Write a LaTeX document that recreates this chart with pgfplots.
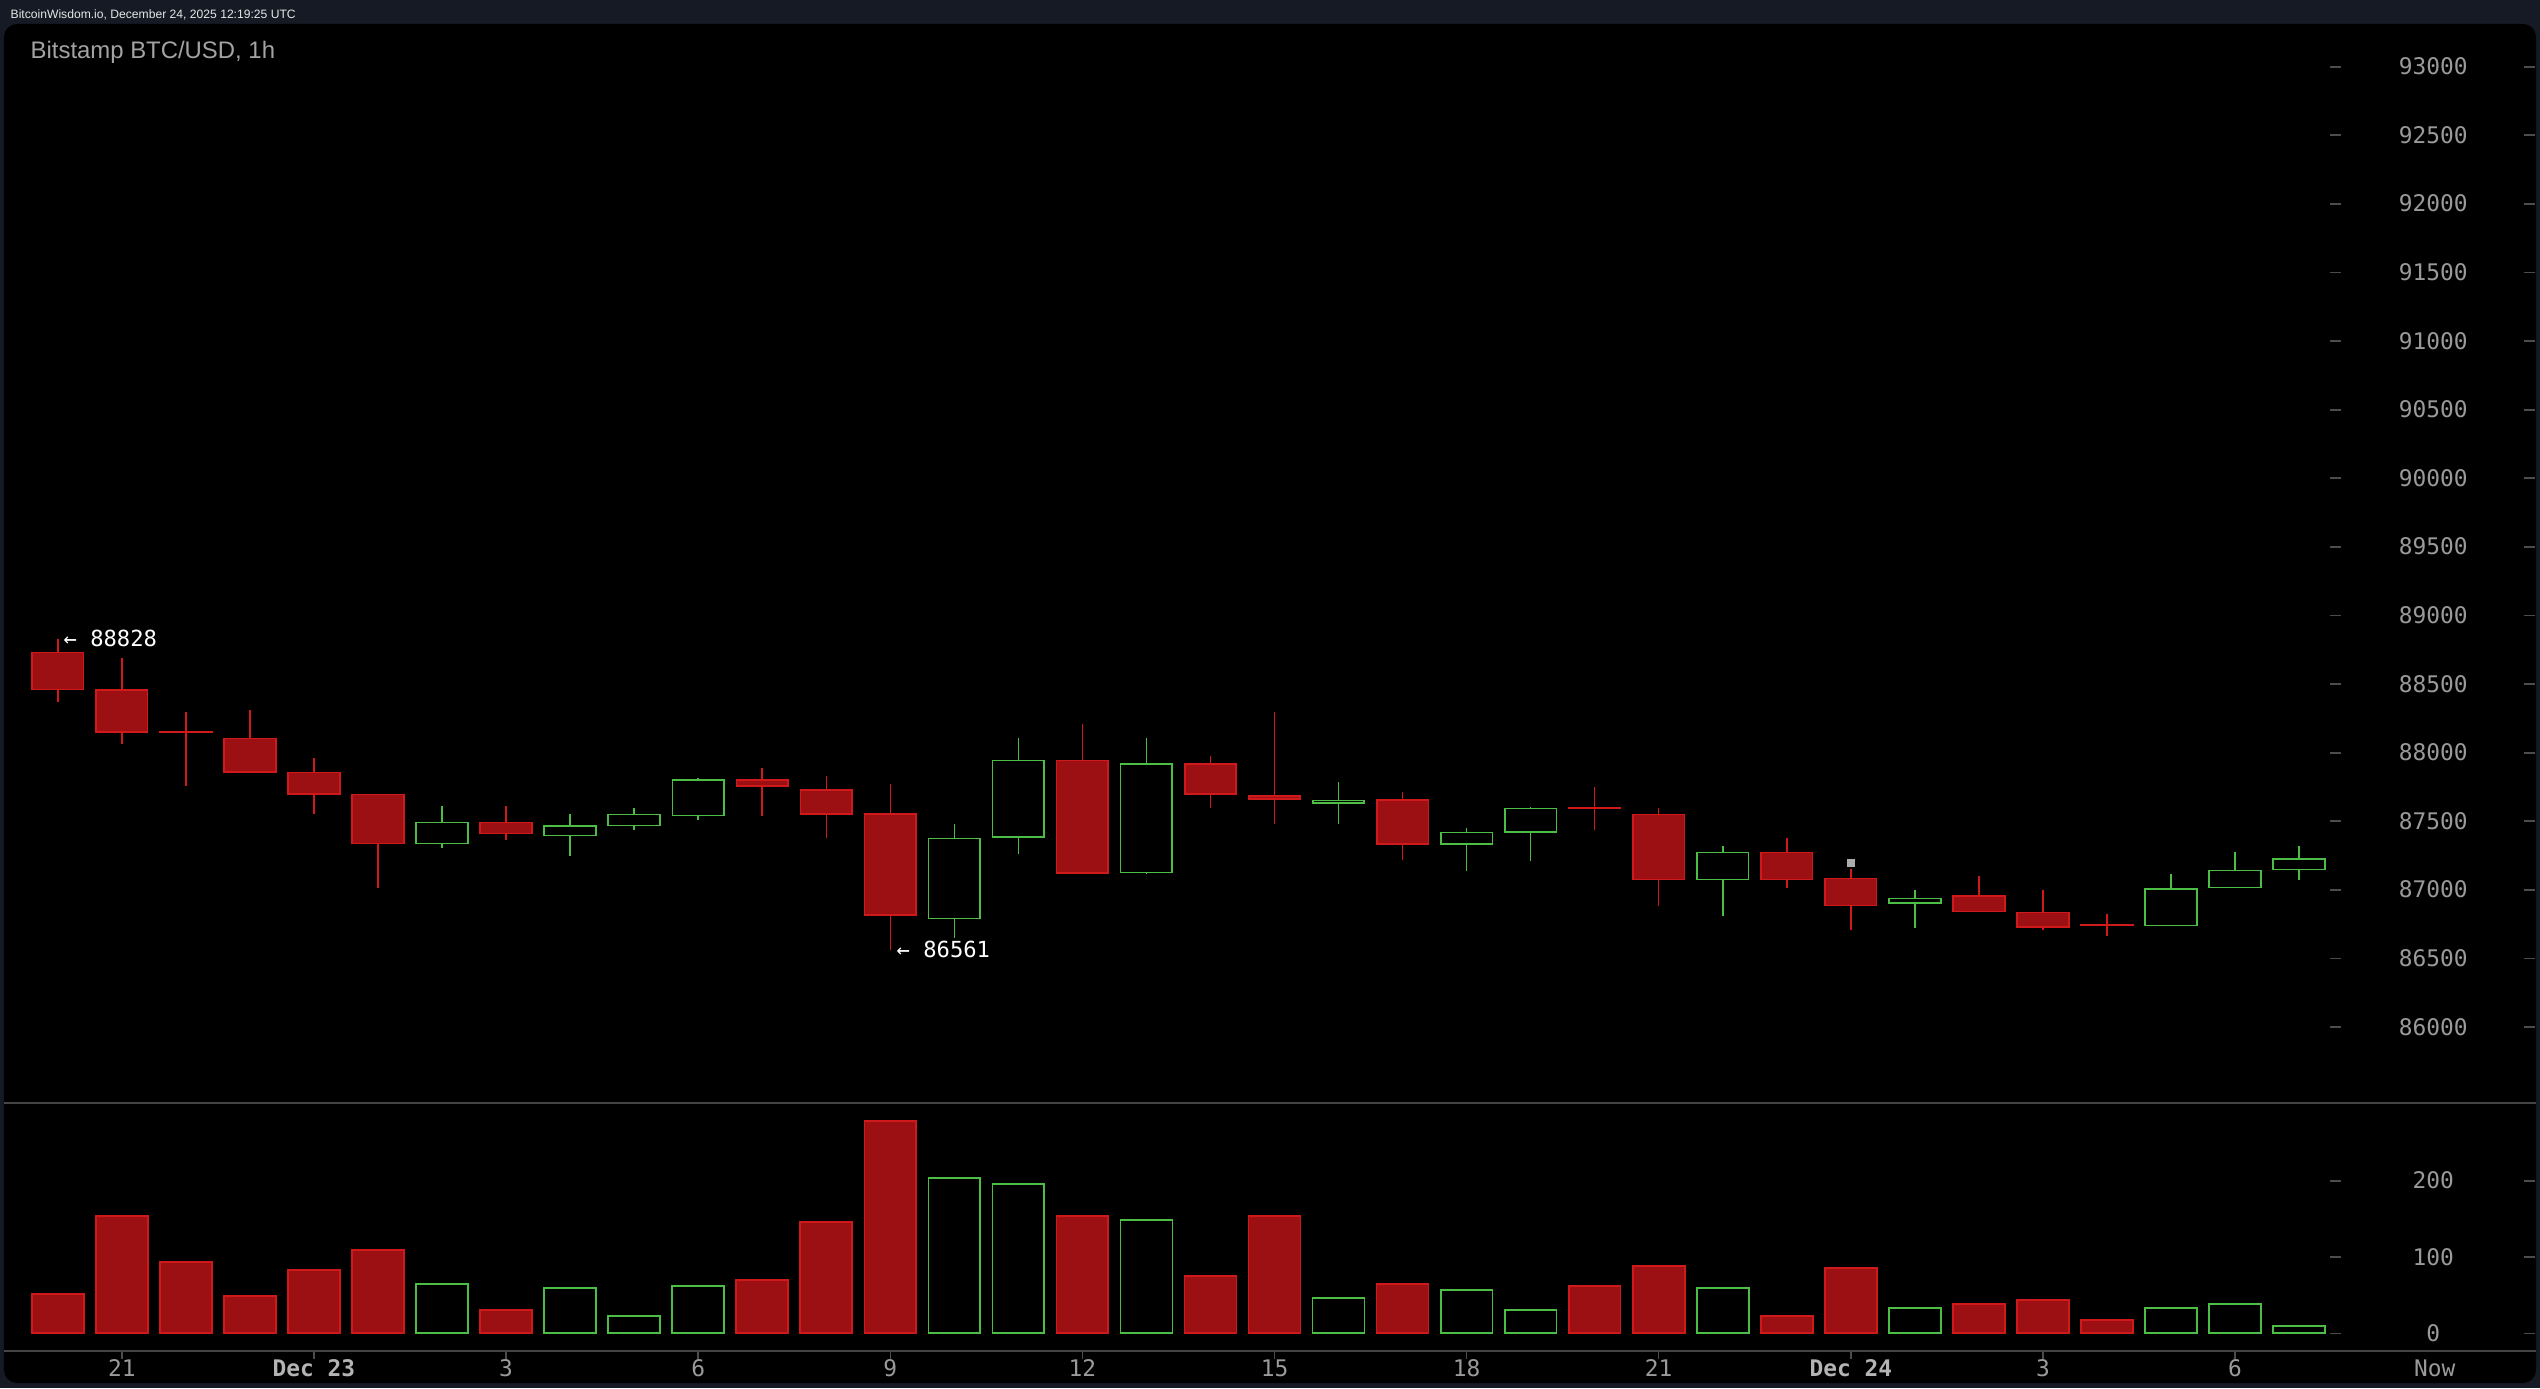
\documentclass[border=0pt]{standalone}
\usepackage{pgfplots}
\pgfplotsset{compat=1.18}
\usepackage{pgfplotstable}
\usepackage{fontspec}
\setmainfont{Liberation Sans}
\newfontfamily\monof{DejaVu Sans Mono}

\definecolor{navy}{HTML}{151A24}
\definecolor{cRedFill}{HTML}{9C0F12}
\definecolor{cRed}{HTML}{D0191B}
\definecolor{cGreen}{HTML}{4DBE45}
\definecolor{labelGray}{HTML}{9A9A9A}
\definecolor{dayGray}{HTML}{B4B4B4}
\definecolor{tickGray}{HTML}{4C4C4C}
\definecolor{lineGray}{HTML}{454545}
\definecolor{titleGray}{HTML}{A3A3A3}
\definecolor{headWhite}{HTML}{E6E6E6}
\definecolor{markGray}{HTML}{ABABAB}

% hour offset from Dec 23 00:00 ; open high low close volume
\pgfplotstableread{
x  O     H     L     C     V
-4 88727 88828 88367 88459 51.5
-3 88455 88691 88063 88151 153.7
-2 88150 88294 87757 88145 93.4
-1 88102 88309 87859 87859 48.9
0  87854 87959 87553 87699 83
1  87694 87694 87013 87337 109
3  87490 87609 87361 87408 30.6
7  87799 87886 87536 87757 69.9
8  87726 87828 87378 87553 145.9
9  87551 87769 86561 86814 278
12 87942 88207 87121 87121 153.7
14 87913 87973 87594 87699 75.1
15 87682 88294 87478 87662 153.7
17 87653 87711 87215 87334 64.6
20 87594 87746 87437 87590 62
21 87548 87595 86883 87074 88.2
23 87271 87376 87014 87074 22.7
24 87082 87186 86708 86883 85.6
26 86951 87099 86841 86841 38.4
27 86834 86997 86708 86725 43.7
28 86746 86822 86664 86742 17.5
}\redtab

\pgfplotstableread{
x  O     H     L     C     V
2  87337 87609 87305 87490 64.6
4  87395 87551 87247 87463 59.4
5  87468 87594 87434 87548 22.7
6  87541 87813 87507 87799 62
10 86790 87478 86649 87373 203.5
11 87385 88105 87262 87942 195.6
13 87125 88105 87115 87913 148.5
16 87630 87784 87478 87650 46.3
18 87334 87448 87133 87417 56.8
19 87422 87600 87205 87592 30.6
22 87074 87317 86810 87271 59.4
25 86900 86997 86722 86936 33.2
29 86739 87113 86739 87006 33.2
30 87016 87274 87016 87140 38.4
31 87147 87317 87072 87225 9.6
}\greentab

\newcommand\tickfont{\monof\fontsize{6.5}{7.5}\selectfont}
\newcommand\ylab[1]{\hbox{\textcolor{tickGray}{\rule[2.05pt]{1.1mm}{0.5pt}}\hspace{9.2mm}\makebox[0pt]{#1}\hspace{9.1mm}\textcolor{tickGray}{\rule[2.05pt]{1.1mm}{0.5pt}}}}

\pgfplotsset{
  chartbase/.style={
    scale only axis, width=25.32cm,
    xmin=-4.84, xmax=34.70,
    axis line style={draw=none},
    ytick style={draw=none},
    yticklabel pos=right,
    scaled y ticks=false,
    yticklabel style={anchor=east, inner sep=0pt, font=\tickfont, text=labelGray},
  },
  wicks/.style={
    draw=none, mark=none, forget plot,
    error bars/.cd, y dir=plus, y explicit, error mark=none,
    error bar style={draw=#1, line width=0.42pt},
  },
  bodies/.style 2 args={
    draw=none, mark=none, forget plot,
    error bars/.cd, y dir=plus, y explicit,
    draw error bar/.code 2 args={%
      \path ##1 coordinate (cbA) ##2 coordinate (cbB);
      \filldraw[draw=#1, fill=#2, line width=0.48pt] ([xshift=-2.58mm]cbA) rectangle ([xshift=2.58mm]cbB);
    },
  },
}

\begin{document}
\begin{tikzpicture}
\useasboundingbox (0,0) rectangle (25.4cm,13.88cm);
\fill[navy] (0,0) rectangle (25.4cm,13.88cm);
\fill[black, rounded corners=1.3mm] (0.04cm,0.05cm) rectangle (25.36cm,13.64cm);
\node[anchor=base west, inner sep=0pt, font=\fontsize{3.45}{4}\selectfont, text=headWhite] at (0.10cm,13.697cm) {BitcoinWisdom.io, December 24, 2025 12:19:25 UTC};
\node[anchor=base west, inner sep=0pt, font=\fontsize{6.8}{8}\selectfont, text=titleGray] at (0.30cm,13.29cm) {Bitstamp BTC/USD, 1h};

% price panel
\begin{axis}[chartbase, at={(0.04cm,2.85cm)}, anchor=south west, height=10.79cm,
  ymin=85444.6, ymax=93309, xtick=\empty,
  ytick={86000,86500,87000,87500,88000,88500,89000,89500,90000,90500,91000,91500,92000,92500,93000},
  yticklabels={\ylab{86000},\ylab{86500},\ylab{87000},\ylab{87500},\ylab{88000},\ylab{88500},\ylab{89000},\ylab{89500},\ylab{90000},\ylab{90500},\ylab{91000},\ylab{91500},\ylab{92000},\ylab{92500},\ylab{93000}},
]
\addplot[wicks=cRed] table[x=x, y=L, y error expr=\thisrow{H}-\thisrow{L}] {\redtab};
\addplot[wicks=cGreen] table[x=x, y=L, y error expr=\thisrow{H}-\thisrow{L}] {\greentab};
\addplot[bodies={cRed}{cRedFill}] table[x=x, y=C, y error expr=\thisrow{O}-\thisrow{C}] {\redtab};
\addplot[bodies={cGreen}{black}] table[x=x, y=O, y error expr=\thisrow{C}-\thisrow{O}] {\greentab};
\addplot[only marks, mark=square*, mark size=0.5mm, mark options={draw=none, fill=markGray}] coordinates {(24,87195)};
\node[anchor=west, inner sep=0pt, font=\monof\fontsize{6.3}{7.5}\selectfont, text=white] at (axis cs:-3.92,88828) {← 88828};
\node[anchor=west, inner sep=0pt, font=\monof\fontsize{6.3}{7.5}\selectfont, text=white] at (axis cs:9.09,86561) {← 86561};
\end{axis}

% volume panel
\begin{axis}[chartbase, at={(0.04cm,0.37cm)}, anchor=south west, height=2.48cm,
  ymin=-23.2, ymax=301.8,
  ytick={0,100,200}, yticklabels={\ylab{0},\ylab{100},\ylab{200}},
  xtick pos=left,
  xtick={-3,0,...,30},
  xticklabels={21,{\bfseries\color{dayGray}Dec 23},3,6,9,12,15,18,21,{\bfseries\color{dayGray}Dec 24},3,6},
  extra x ticks={33.12}, extra x tick labels={Now}, extra x tick style={major tick length=0pt},
  tick align=inside, major tick length=0.8mm,
  xtick style={draw=tickGray, line width=0.4pt, yshift=-0.8mm},
  xticklabel style={anchor=center, yshift=-1.7mm, font=\tickfont, text=labelGray, inner sep=0pt},
]
\addplot[ybar, bar width=0.81, bar shift=0pt, draw=cRed, fill=cRedFill, line width=0.48pt] table[x=x, y=V] {\redtab};
\addplot[ybar, bar width=0.81, bar shift=0pt, draw=cGreen, fill=black, line width=0.48pt] table[x=x,y=V] {\greentab};
\end{axis}

\draw[lineGray, line width=0.5pt] (0.04cm,2.85cm) -- (25.36cm,2.85cm);
\draw[lineGray, line width=0.5pt] (0.04cm,0.37cm) -- (25.36cm,0.37cm);
\end{tikzpicture}
\end{document}
